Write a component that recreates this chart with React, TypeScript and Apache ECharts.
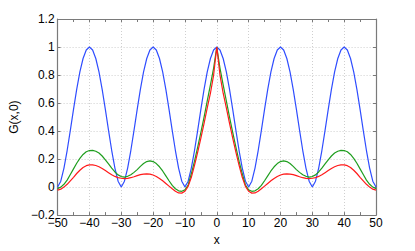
import React, { useEffect, useRef } from "react";
import * as echarts from "echarts";

const xValues = [
  -50, -49, -48, -47, -46, -45, -44, -43, -42, -41, -40, -39, -38, -37, -36, -35, -34, -33, -32, -31,
  -30, -29, -28, -27, -26, -25, -24, -23, -22, -21, -20, -19, -18, -17, -16, -15, -14, -13, -12, -11,
  -10, -9, -8, -7, -6, -5, -4, -3, -2, -1, 0, 1, 2, 3, 4, 5, 6, 7, 8, 9,
  10, 11, 12, 13, 14, 15, 16, 17, 18, 19, 20, 21, 22, 23, 24, 25, 26, 27, 28, 29,
  30, 31, 32, 33, 34, 35, 36, 37, 38, 39, 40, 41, 42, 43, 44, 45, 46, 47, 48, 49, 50,
];

const blueValues = [
  0, 0.042, 0.136, 0.261, 0.405, 0.555, 0.698, 0.822, 0.918, 0.979, 1,
  0.979, 0.918, 0.822, 0.698, 0.555, 0.405, 0.261, 0.136, 0.042, 0,
  0.042, 0.136, 0.261, 0.405, 0.555, 0.698, 0.822, 0.918, 0.979, 1,
  0.979, 0.918, 0.822, 0.698, 0.555, 0.405, 0.261, 0.136, 0.042, 0,
  0.042, 0.136, 0.261, 0.405, 0.555, 0.698, 0.822, 0.918, 0.979, 1,
  0.979, 0.918, 0.822, 0.698, 0.555, 0.405, 0.261, 0.136, 0.042, 0,
  0.042, 0.136, 0.261, 0.405, 0.555, 0.698, 0.822, 0.918, 0.979, 1,
  0.979, 0.918, 0.822, 0.698, 0.555, 0.405, 0.261, 0.136, 0.042, 0,
  0.042, 0.136, 0.261, 0.405, 0.555, 0.698, 0.822, 0.918, 0.979, 1,
  0.979, 0.918, 0.822, 0.698, 0.555, 0.405, 0.261, 0.136, 0.042, 0,
];

const greenValues = [
  -0.012, 0.0, 0.02, 0.05, 0.09, 0.13, 0.17, 0.205, 0.233, 0.252,
  0.261, 0.262, 0.256, 0.243, 0.222, 0.195, 0.165, 0.135, 0.108, 0.087,
  0.075, 0.071, 0.077, 0.088, 0.105, 0.125, 0.148, 0.168, 0.182, 0.187,
  0.182, 0.168, 0.145, 0.115, 0.08, 0.045, 0.012, -0.012, -0.027, -0.03,
  -0.02, 0.015, 0.095, 0.185, 0.285, 0.39, 0.5, 0.615, 0.73, 0.85,
  1.0,
  0.85, 0.73, 0.615, 0.5, 0.39, 0.285, 0.185, 0.095, 0.015, -0.02,
  -0.03, -0.027, -0.012, 0.012, 0.045, 0.08, 0.115, 0.145, 0.168, 0.182,
  0.187, 0.182, 0.168, 0.148, 0.125, 0.105, 0.088, 0.077, 0.071, 0.075,
  0.087, 0.108, 0.135, 0.165, 0.195, 0.222, 0.243, 0.256, 0.262, 0.261,
  0.252, 0.233, 0.205, 0.17, 0.13, 0.09, 0.05, 0.02, 0.0, -0.012,
];

const redValues = [
  -0.022, -0.015, 0.0, 0.02, 0.045, 0.07, 0.097, 0.12, 0.14, 0.153,
  0.159, 0.159, 0.154, 0.145, 0.133, 0.118, 0.103, 0.088, 0.076, 0.068,
  0.063, 0.061, 0.062, 0.067, 0.074, 0.082, 0.089, 0.093, 0.094, 0.092,
  0.086, 0.076, 0.062, 0.045, 0.026, 0.007, -0.012, -0.03, -0.042, -0.043,
  -0.03, 0.005, 0.07, 0.155, 0.25, 0.35, 0.455, 0.565, 0.67, 0.8,
  1.0,
  0.8, 0.67, 0.565, 0.455, 0.35, 0.25, 0.155, 0.07, 0.005, -0.03,
  -0.043, -0.042, -0.03, -0.012, 0.007, 0.026, 0.045, 0.062, 0.076, 0.086,
  0.092, 0.094, 0.093, 0.089, 0.082, 0.074, 0.067, 0.062, 0.061, 0.063,
  0.068, 0.076, 0.088, 0.103, 0.118, 0.133, 0.145, 0.154, 0.159, 0.159,
  0.153, 0.14, 0.12, 0.097, 0.07, 0.045, 0.02, 0.0, -0.015, -0.022,
];

const xAxisTitle = "x";
const yAxisTitle = "G(x,0)";

const seriesDefs = [
  { name: "blue", values: blueValues, color: "#2f4dff" },
  { name: "green", values: greenValues, color: "#1f9e1f" },
  { name: "red", values: redValues, color: "#ff1a1a" },
];

const FONT = "'Liberation Sans', Arial, Helvetica, sans-serif";
const AXIS_COLOR = "#7a7a7a";

const fmtMinus = (v: number) => String(Math.round(v * 10) / 10).replace("-", "\u2212");

export default function App() {
  const ref = useRef<HTMLDivElement>(null);
  useEffect(() => {
    if (!ref.current) return;
    const chart = echarts.init(ref.current, null, { renderer: "svg" });
    const axisLine = { show: true, onZero: false, lineStyle: { color: AXIS_COLOR, width: 1.2 } };
    const tick = { show: true, inside: true, length: 3, lineStyle: { color: AXIS_COLOR } };
    chart.setOption({
      animation: false,
      backgroundColor: "#ffffff",
      grid: { left: 54, right: 39, top: 19, bottom: 29, containLabel: false },
      xAxis: [
        {
          type: "value",
          position: "bottom",
          min: -50,
          max: 50,
          interval: 10,
          name: xAxisTitle,
          nameLocation: "middle",
          nameGap: 13,
          nameTextStyle: { fontFamily: FONT, fontSize: 12, color: "#000" },
          axisLine,
          axisTick: tick,
          minorTick: { show: true, splitNumber: 2, length: 3, lineStyle: { color: AXIS_COLOR } },
          axisLabel: { fontFamily: FONT, fontSize: 12, color: "#000", margin: 2, formatter: fmtMinus },
          splitLine: { show: true, lineStyle: { color: "#cfcfcf", type: [1, 2], width: 1 } },
        },
        {
          type: "value",
          position: "top",
          min: -50,
          max: 50,
          interval: 10,
          axisLine,
          axisTick: tick,
          minorTick: { show: true, splitNumber: 2, length: 3, lineStyle: { color: AXIS_COLOR } },
          axisLabel: { show: false },
          splitLine: { show: false },
        },
      ],
      yAxis: [
        {
          type: "value",
          position: "left",
          min: -0.2,
          max: 1.2,
          interval: 0.2,
          name: yAxisTitle,
          nameLocation: "middle",
          nameGap: 25,
          nameTextStyle: { fontFamily: FONT, fontSize: 12, color: "#000" },
          axisLine,
          axisTick: tick,
          axisLabel: { fontFamily: FONT, fontSize: 12, color: "#000", margin: 3, formatter: fmtMinus },
          splitLine: { show: true, lineStyle: { color: "#cfcfcf", type: [1, 2], width: 1 } },
        },
        {
          type: "value",
          position: "right",
          min: -0.2,
          max: 1.2,
          interval: 0.2,
          axisLine,
          axisTick: tick,
          axisLabel: { show: false },
          splitLine: { show: false },
        },
      ],
      series: seriesDefs.map((s) => ({
        name: s.name,
        type: "line",
        xAxisIndex: 0,
        yAxisIndex: 0,
        data: xValues.map((x, i) => [x, s.values[i]]),
        showSymbol: false,
        symbol: "none",
        lineStyle: { color: s.color, width: 1.2 },
        itemStyle: { color: s.color },
        clip: true,
      })),
    });
    return () => chart.dispose();
  }, []);
  return (
    <div
      ref={ref}
      style={{ position: "fixed", left: 0, top: 0, width: 415, height: 251, background: "#fff" }}
    />
  );
}
